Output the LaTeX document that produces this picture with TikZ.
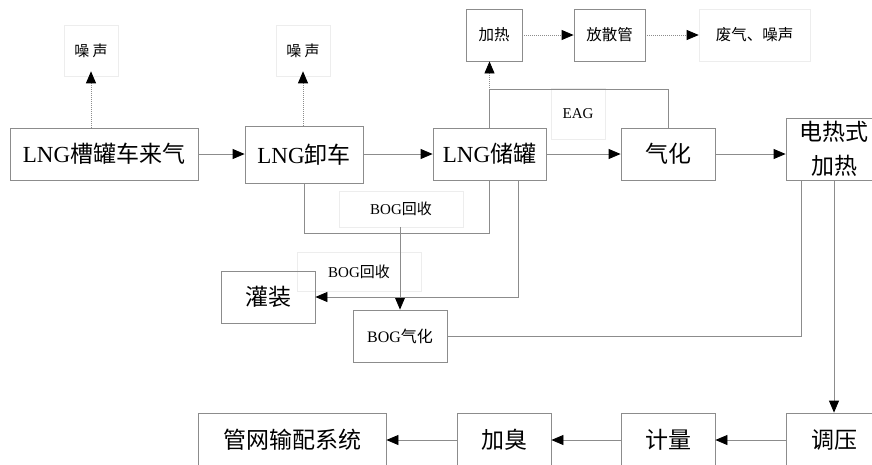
\documentclass[tikz,border=0pt]{standalone}
\usepackage{fontspec}
\setmainfont{Liberation Serif}
\newfontfamily\zhfont{Noto Sans CJK SC}
\newcommand{\zh}[1]{{\zhfont #1}}
\usetikzlibrary{arrows.meta}
\begin{document}
\begin{tikzpicture}[x=1pt,y=-1pt,
  box/.style={draw=black!45,line width=0.8pt,rectangle,inner sep=0pt,align=center,font=\fontsize{23}{34}\selectfont},
  sbox/.style={box,font=\fontsize{15.5}{18}\selectfont},
  lbl/.style={draw=black!7,line width=0.6pt,rectangle,inner sep=0pt,align=center,font=\fontsize{15}{18}\selectfont},
  flow/.style={draw=black!45,line width=0.8pt},
  arr/.style={flow,-{Triangle[length=12pt,width=10pt,fill=black,color=black]}},
  dotarr/.style={arr,dash pattern=on 1pt off 1pt}]
\clip (0,0) rectangle (872,464);
\fill[white] (0,0) rectangle (872,464);
% main row
\node[box,minimum width=188pt,minimum height=52pt] (n1) at (104,154) {LNG\zh{槽罐车来气}};
\node[lbl,minimum width=54pt,minimum height=51pt] (noise1) at (91,50.5) {\zh{噪 声}};
\node[box,minimum width=118pt,minimum height=57pt] (n2) at (304,154.5) {LNG\zh{卸车}};
\node[lbl,minimum width=54pt,minimum height=51pt] (noise2) at (303,50.5) {\zh{噪 声}};
\node[box,minimum width=113pt,minimum height=52pt] (n3) at (489.5,154) {LNG\zh{储罐}};
\node[sbox,minimum width=56pt,minimum height=52pt] (heat) at (494,35) {\zh{加热}};
\node[sbox,minimum width=71pt,minimum height=52pt] (vent) at (609.5,35) {\zh{放散管}};
\node[lbl,minimum width=111pt,minimum height=52pt,font=\fontsize{15.5}{18}\selectfont] (waste) at (754.5,35) {\zh{废气、噪声}};
\node[lbl,minimum width=54pt,minimum height=51pt] (eag) at (578,113.5) {EAG};
\node[box,minimum width=94pt,minimum height=52pt] (gas) at (668,154) {\zh{气化}};
\node[box,minimum width=96pt,minimum height=62pt] (eheat) at (834,149) {\zh{电热式}\\\zh{加热}};
% BOG part
\node[lbl,minimum width=124pt,minimum height=36pt] (bog1) at (401,209) {BOG\zh{回收}};
\node[lbl,minimum width=124pt,minimum height=39pt] (bog2) at (359,271.5) {BOG\zh{回收}};
\node[box,minimum width=94pt,minimum height=52pt] (fill) at (268,297) {\zh{灌装}};
\node[sbox,minimum width=94pt,minimum height=52pt,font=\fontsize{16}{18}\selectfont] (boggas) at (400,336) {BOG\zh{气化}};
% bottom row
\node[box,minimum width=96pt,minimum height=54pt] (reg) at (834,440) {\zh{调压}};
\node[box,minimum width=94pt,minimum height=54pt] (meter) at (668,440) {\zh{计量}};
\node[box,minimum width=94pt,minimum height=54pt] (odor) at (504,440) {\zh{加臭}};
\node[box,minimum width=188pt,minimum height=54pt] (net) at (292,440) {\zh{管网输配系统}};
% coordinates
\coordinate (eagy) at (0,89);
\coordinate (bogy) at (0,233);
% connectors
\draw[arr] (n1.east) -- (n2.west |- n1.east);
\draw[arr] (n2.east |- n3.west) -- (n3.west);
\draw[arr] (n3.east) -- (gas.west);
\draw[arr] (gas.east) -- (gas.east -| eheat.west);
\draw[dotarr] (noise1.south |- n1.north) -- ([yshift=5pt]noise1.south);
\draw[dotarr] (noise2.south |- n2.north) -- ([yshift=5pt]noise2.south);
\draw[flow] (gas.north) |- (eagy -| n3.north) -- (n3.north);
\draw[dotarr] (n3.north) -- (n3.north |- heat.south);
\draw[dotarr] (heat.east) -- (vent.west);
\draw[dotarr] (vent.east) -- (waste.west);
\draw[flow] (n2.south) |- (bogy -| n3.south) -- (n3.south);
\draw[arr] (boggas.north |- bog1.south) -- (boggas.north);
\draw[arr] ([xshift=28.5pt]n3.south) |- (fill.east);
\draw[flow] (boggas.east) -| ([xshift=-33pt]eheat.south);
\draw[arr] (eheat.south) -- (eheat.south |- reg.north);
\draw[arr] (reg.west) -- (meter.east);
\draw[arr] (meter.west) -- (odor.east);
\draw[arr] (odor.west) -- (net.east);
\end{tikzpicture}
\end{document}
